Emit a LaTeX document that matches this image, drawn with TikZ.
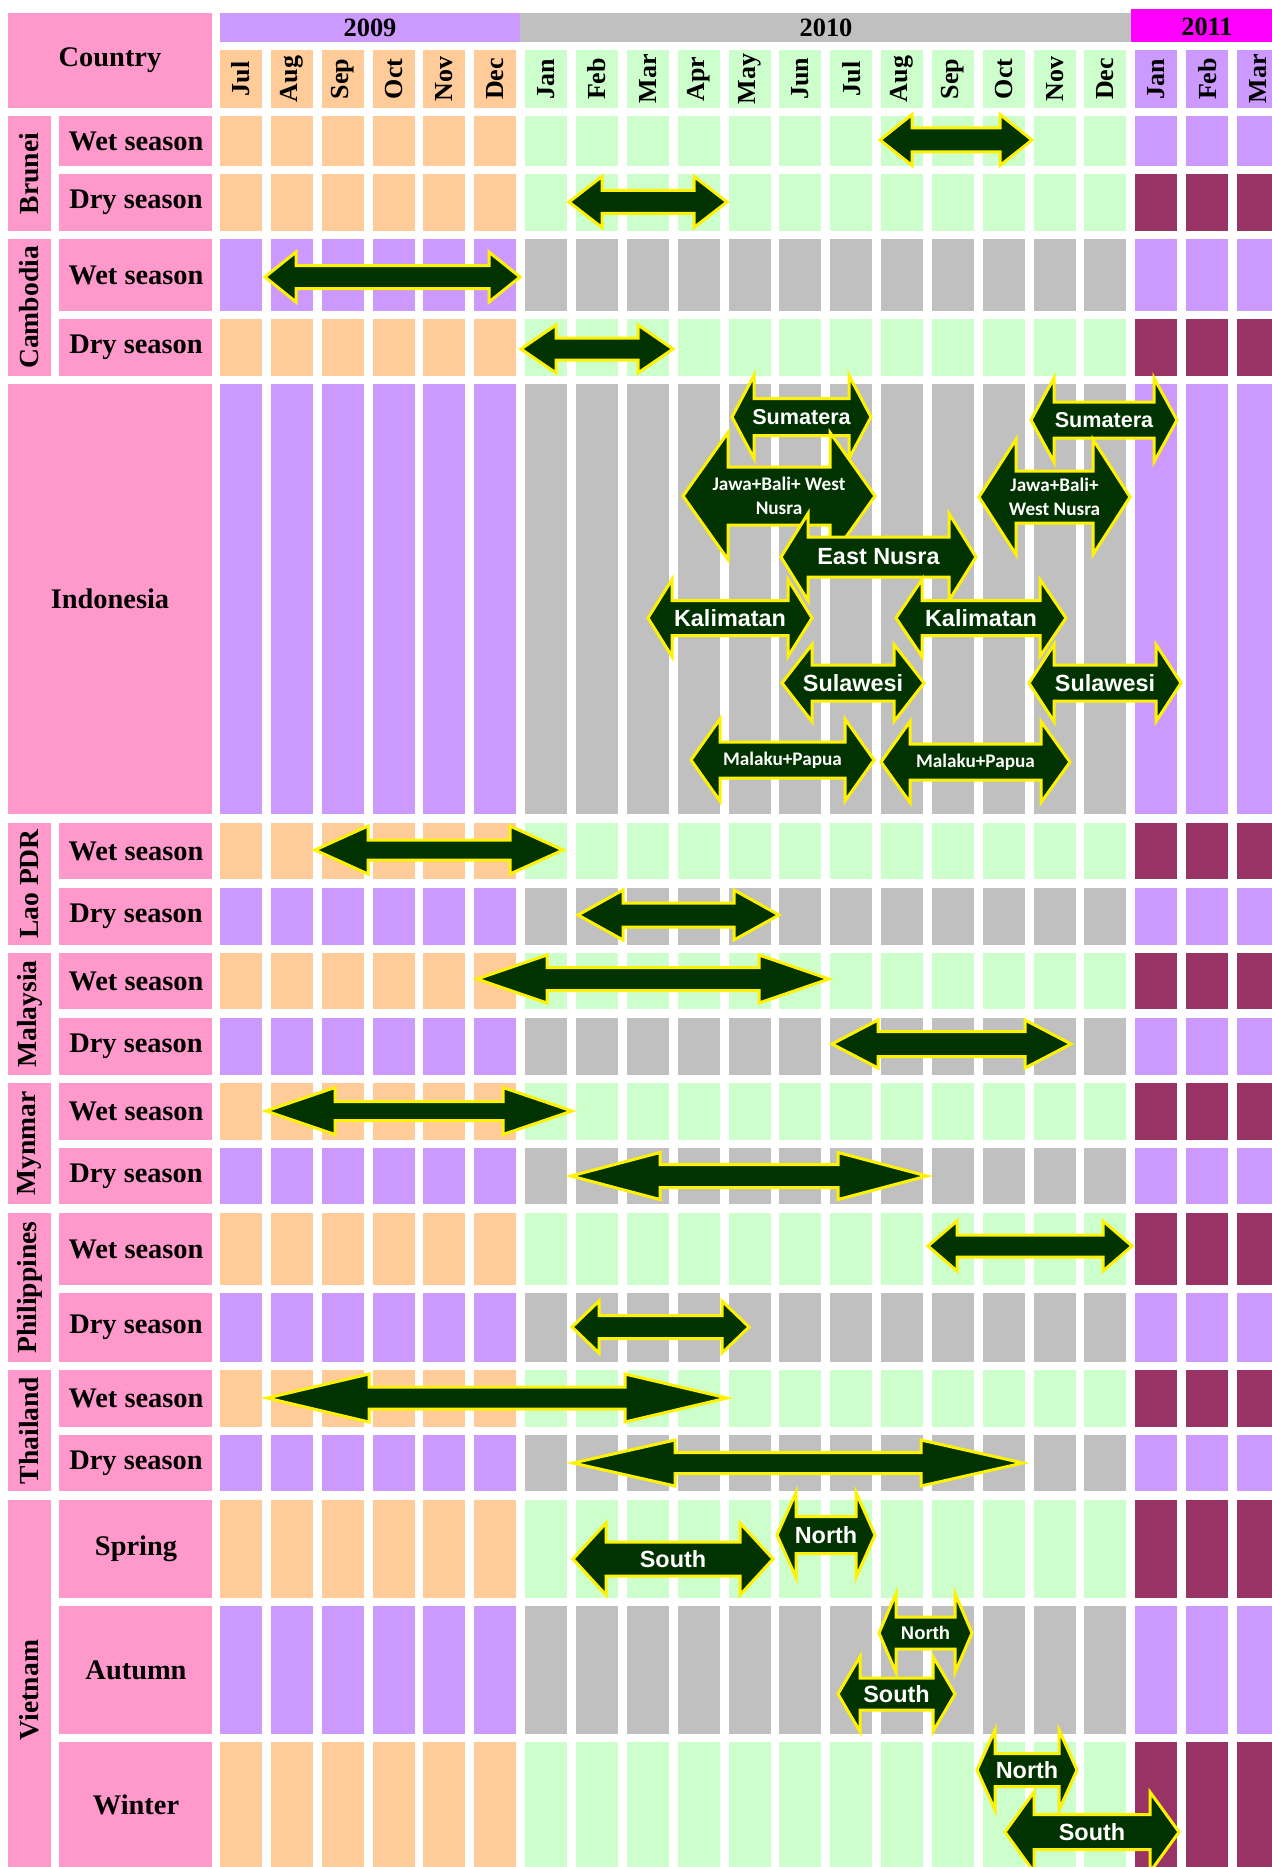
\documentclass[tikz,border=0pt]{standalone}
\usepackage{fontspec}
\setmainfont{Liberation Serif}
\newfontfamily\arrowfont{Liberation Sans}
\newfontfamily\narrowfont{Carlito}
\usetikzlibrary{positioning}

\definecolor{peach}{HTML}{FFCC99}
\definecolor{mint}{HTML}{CCFFCC}
\definecolor{lilac}{HTML}{CC99FF}
\definecolor{silver}{HTML}{C0C0C0}
\definecolor{plum}{HTML}{993366}
\definecolor{rose}{HTML}{FF99CC}
\definecolor{yearpink}{HTML}{FF00FF}
\definecolor{forest}{HTML}{003300}

\tikzset{
    label text/.style={inner sep=0pt, font=\bfseries\fontsize{14.2}{16}\selectfont}, % row labels
    country text/.style={inner sep=0pt, rotate=90, font=\bfseries\fontsize{13.8}{16}\selectfont},
    month text/.style={inner sep=0pt, rotate=90, font=\bfseries\fontsize{13}{15}\selectfont},
    year text/.style={inner sep=0pt, font=\bfseries\fontsize{13.2}{15}\selectfont},
    season arrow/.style={fill=forest, draw=yellow, line width=1.5pt, line join=miter},
    arrow text/.style={inner sep=0pt, text=white, align=center, font=\arrowfont\bfseries\fontsize{11.7}{13}\selectfont},
    small text/.style={font=\arrowfont\bfseries\fontsize{10.8}{12}\selectfont},
    narrow text/.style={font=\narrowfont\bfseries\fontsize{9.6}{11.7}\selectfont},
}

% name, left tip, right tip, middle, shaft half, head half, head length, options, text
\newcommand\seasonarrow[9]{%
  \filldraw[season arrow] (#2,#4) -- ({#2+#7},{#4-#6}) -- ({#2+#7},{#4-#5})
    -- ({#3-#7},{#4-#5}) -- ({#3-#7},{#4-#6}) -- (#3,#4) -- ({#3-#7},{#4+#6})
    -- ({#3-#7},{#4+#5}) -- ({#2+#7},{#4+#5}) -- ({#2+#7},{#4+#6}) -- cycle;
  \node[arrow text, #8] (#1) at ({(#2+#3)/2},#4) {#9};
}

\begin{document}
\begin{tikzpicture}[x=0.5pt, y=-0.5pt]
\useasboundingbox (0,0) rectangle (1272,1867);
\clip (0,0) rectangle (1272,1867);

% month cells, one row at a time
\foreach \ya/\yb/\ca/\cb/\cx in {50/108/peach/mint/lilac, 116/166/peach/mint/lilac,
    174/231/peach/mint/plum, 239/311/lilac/silver/lilac, 319/376/peach/mint/plum,
    384/814/lilac/silver/lilac, 823/879/peach/mint/plum, 888/945/lilac/silver/lilac,
    953/1009/peach/mint/plum, 1018/1075/lilac/silver/lilac, 1083/1140/peach/mint/plum,
    1148/1204/lilac/silver/lilac, 1213/1285/peach/mint/plum, 1293/1362/lilac/silver/lilac,
    1370/1427/peach/mint/plum, 1435/1491/lilac/silver/lilac, 1500/1598/peach/mint/plum,
    1606/1734/lilac/silver/lilac, 1742/1880/peach/mint/plum}{
  \foreach \i in {0,...,20}{
    \ifnum\i<6 \edef\cellcol{\ca}\else\ifnum\i<18 \edef\cellcol{\cb}\else\edef\cellcol{\cx}\fi\fi
    \fill[fill=\cellcol] ({220+50.85*\i},\ya) rectangle ({262+50.85*\i},\yb);
  }
}

% years
\fill[lilac] (220,13) rectangle (520,42);
\node[year text] (y2009) at (370,28) {2009};
\fill[silver] (520,13) rectangle (1131,42);
\node[year text] (y2010) at (826,28) {2010};
\fill[yearpink] (1131,9) rectangle (1272,42);
\node[year text] (y2011) at (1207,27) {2011};

\foreach \m [count=\i from 0] in {Jul,Aug,Sep,Oct,Nov,Dec,Jan,Feb,Mar,Apr,May,Jun,Jul,Aug,Sep,Oct,Nov,Dec,Jan,Feb,Mar}
  \node[month text] (month\i) at ({241+50.85*\i},79) {\m};

% label column
\fill[rose] (8,13) rectangle (212,108);
\node[label text] (country) at (110,60) {Country};
\fill[rose] (8,384) rectangle (212,814);
\node[label text] (indonesia) at (110,599) {Indonesia};

\foreach \n/\ya/\yb/\t in {brunei/116/231/Brunei, cambodia/239/376/Cambodia,
    lao/823/945/Lao PDR, malaysia/953/1075/Malaysia, myanmar/1083/1204/Mynmar,
    philippines/1213/1362/Philippines, thailand/1370/1491/Thailand, vietnam/1500/1880/Vietnam}{
  \fill[rose] (8,\ya) rectangle (51,\yb);
  \node[country text] (\n) at (29.5,{(\ya+\yb)/2}) {\t};
}

\foreach \n/\ya/\yb/\t in {bw/116/166/Wet season, bd/174/231/Dry season,
    cw/239/311/Wet season, cd/319/376/Dry season, lw/823/879/Wet season,
    ld/888/945/Dry season, mw/953/1009/Wet season, md/1018/1075/Dry season,
    yw/1083/1140/Wet season, yd/1148/1204/Dry season, pw/1213/1285/Wet season,
    pd/1293/1362/Dry season, tw/1370/1427/Wet season, td/1435/1491/Dry season,
    vs/1500/1598/Spring, va/1606/1734/Autumn, vw/1742/1867/Winter}{
  \fill[rose] (59,\ya) rectangle (212,\yb);
  \node[label text] (\n) at (136,{(\ya+\yb)/2}) {\t};
}

% season arrows
\seasonarrow{bruneiwet}{880}{1032}{140}{12}{25.5}{32}{}{}
\seasonarrow{bruneidry}{569}{727}{202}{11.5}{25.5}{33}{}{}
\seasonarrow{cambodiawet}{265}{520}{277}{11.5}{25}{31}{}{}
\seasonarrow{cambodiadry}{521}{673}{349}{11}{24}{35}{}{}

\seasonarrow{sumatera1}{732}{871}{417}{18.5}{41.5}{22}{small text}{Sumatera}
\seasonarrow{jawa1}{683}{875}{496}{29}{63.5}{45}{narrow text}{Jawa+Bali+ West\\Nusra}
\seasonarrow{eastnusra}{781}{976}{557}{20}{43.5}{27}{}{East Nusra}
\seasonarrow{kalimatan1}{648}{812}{618}{17.5}{38.5}{24}{}{Kalimatan}
\seasonarrow{sulawesi1}{782}{924}{683}{18}{38.5}{30}{}{Sulawesi}
\seasonarrow{malaku1}{691}{874}{760}{18}{41}{29}{narrow text}{Malaku+Papua}
\seasonarrow{sumatera2}{1031}{1177}{420}{18}{42}{23}{small text}{Sumatera}
\seasonarrow{jawa2}{979}{1130}{497}{26}{57.5}{37}{narrow text}{Jawa+Bali+\\West Nusra}
\seasonarrow{kalimatan2}{896}{1066}{618}{17.5}{38.5}{26}{}{Kalimatan}
\seasonarrow{sulawesi2}{1029}{1181}{683}{18}{38.5}{25}{}{Sulawesi}
\seasonarrow{malaku2}{881}{1070}{762}{18}{40.5}{29}{narrow text}{Malaku+Papua}

\seasonarrow{laowet}{315}{563}{850}{10}{24}{53}{}{}
\seasonarrow{laodry}{578}{779}{915}{12}{25}{45}{}{}
\seasonarrow{malaysiawet}{477}{829}{979}{11.5}{24}{70}{}{}
\seasonarrow{malaysiadry}{832}{1071}{1044}{12.5}{24}{46}{}{}
\seasonarrow{myanmarwet}{266}{572}{1111}{9.5}{23.5}{69}{}{}
\seasonarrow{myanmardry}{571}{927}{1176}{11.5}{23.5}{89}{}{}
\seasonarrow{philippineswet}{928}{1132}{1246}{11}{25}{29}{}{}
\seasonarrow{philippinesdry}{572}{749}{1327}{11.5}{26}{27}{}{}
\seasonarrow{thailandwet}{267}{727}{1398}{11}{24}{102}{}{}
\seasonarrow{thailanddry}{573}{1023}{1463}{10.5}{23}{102}{}{}

\seasonarrow{springsouth}{573}{773}{1559}{17}{36}{33}{}{South}
\seasonarrow{springnorth}{777}{875}{1535}{18.5}{42.5}{19}{}{North}
\seasonarrow{autumnnorth}{879}{972}{1633}{16}{39.5}{17}{font=\arrowfont\bfseries\fontsize{9.2}{11}\selectfont}{North}
\seasonarrow{autumnsouth}{838}{955}{1694}{16}{37.5}{22}{}{South}
\seasonarrow{winternorth}{977}{1077}{1770}{16.5}{40}{18}{}{North}
\seasonarrow{wintersouth}{1005}{1179}{1832}{17.5}{40}{29}{}{South}
\end{tikzpicture}
\end{document}
